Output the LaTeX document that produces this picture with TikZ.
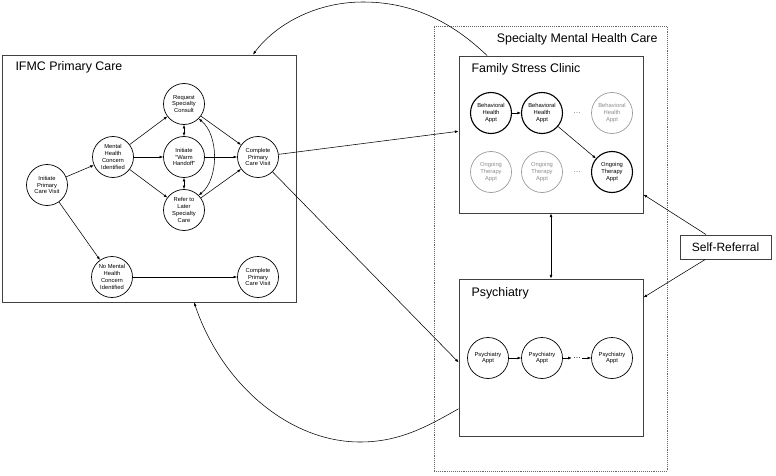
\documentclass[tikz,border=0pt]{standalone}
\usepackage{fontspec}
\setmainfont{Liberation Sans}
\usetikzlibrary{arrows.meta}

\begin{document}
\begin{tikzpicture}[x=1pt,y=-1pt,
    every node/.style={font=\fontsize{5.8}{6.8}\selectfont},
    visit/.style={draw, circle, line width=0.7pt, minimum size=41pt, inner sep=0pt, align=center},
    faded/.style={visit, draw=black!40, text=black!45},
    apptbold/.style={visit, line width=1.1pt},
    panel/.style={draw=black!75, line width=0.9pt, inner sep=0pt},
    title/.style={font=\fontsize{12.4}{14}\selectfont},
    flow/.style={-{Latex[length=3.6pt,width=2.8pt]}, line width=0.55pt},
    both/.style={{Latex[length=3.6pt,width=2.8pt]}-{Latex[length=3.6pt,width=2.8pt]}, line width=0.55pt}]
  \useasboundingbox (0,0) rectangle (776,476);

  %boxes
  \node[panel, minimum width=294pt, minimum height=247pt] (ifmc) at (149,178.5) {};
  \node[panel, draw=black!60, densely dotted, line width=0.6pt, minimum width=233pt, minimum height=445pt] (smhc) at (550.5,248.5) {};
  \node[panel, minimum width=184pt, minimum height=157pt] (fsc) at (551,134.5) {};
  \node[panel, minimum width=184pt, minimum height=157pt] (psy) at (551,357.5) {};
  \node[panel, minimum width=91pt, minimum height=24pt, font=\fontsize{12}{14}\selectfont] (self) at (725.5,247) {Self-Referral};

  \node[title, anchor=base west] (ifmclabel) at (12,71) {IFMC Primary Care};
  \node[title, anchor=base east] (smhclabel) at (661,43) {Specialty Mental Health Care};
  \node[title, anchor=base west] (fsclabel) at (468,73) {Family Stress Clinic};
  \node[title, anchor=base west] (psylabel) at (468,296) {Psychiatry};

  %primary care
  \node[visit] (ipv) at (47,185) {Initiate\\Primary\\Care Visit};
  \node[visit] (mhc) at (113,157) {Mental\\Health\\Concern\\Identified};
  \node[visit] (rsc) at (184,104) {Request\\Specialty\\Consult};
  \node[visit] (wh) at (184,157) {Initiate\\“Warm\\Handoff”};
  \node[visit] (rls) at (184,210) {Refer to\\Later\\Specialty\\Care};
  \node[visit] (cpv) at (258,157) {Complete\\Primary\\Care Visit};
  \node[visit] (nomhc) at (112,277) {No Mental\\Health\\Concern\\Identified};
  \node[visit] (cpvb) at (258,277) {Complete\\Primary\\Care Visit};

  %family stress clinic
  \node[apptbold] (bh1) at (491,113) {Behavioral\\Health\\Appt};
  \node[apptbold] (bh2) at (542,113) {Behavioral\\Health\\Appt};
  \node[text=black!55, font=\fontsize{8}{8}\selectfont] (bhdots) at (577,113) {\dots};
  \node[faded] (bh3) at (612,113) {Behavioral\\Health\\Appt};
  \node[faded] (ot1) at (491,172) {Ongoing\\Therapy\\Appt};
  \node[faded] (ot2) at (542,172) {Ongoing\\Therapy\\Appt};
  \node[text=black!55, font=\fontsize{8}{8}\selectfont] (otdots) at (577,172) {\dots};
  \node[apptbold] (ot3) at (612,172) {Ongoing\\Therapy\\Appt};

  %psychiatry
  \node[visit] (p1) at (488,358) {Psychiatry\\Appt};
  \node[visit] (p2) at (542,358) {Psychiatry\\Appt};
  \node[inner sep=1pt, font=\fontsize{8}{8}\selectfont] (pdots) at (577,358) {\dots};
  \node[visit] (p3) at (612,358) {Psychiatry\\Appt};

  \draw[flow] (ipv) -- (mhc);
  \draw[flow] (ipv) -- (nomhc);
  \draw[flow] (mhc) -- (rsc);
  \draw[flow] (mhc) -- (wh);
  \draw[flow] (mhc) -- (rls);
  \draw[both] (rsc) -- (wh);
  \draw[both] (wh) -- (rls);
  \draw[both] (rsc.-45) .. controls (219,135) and (219,179) .. (rls.45);
  \draw[flow] (rsc) -- (cpv);
  \draw[flow] (wh) -- (cpv);
  \draw[flow] (rls) -- (cpv);
  \draw[flow] (nomhc) -- (cpvb);

  \draw[flow] (bh1) -- (bh2);
  \draw[flow] (bh2) -- (ot3);
  \draw[flow] (p1) -- (p2);
  \draw[flow] (p2) -- (pdots);
  \draw[flow] (pdots) -- (p3);

  \draw[flow] (cpv) -- (fsc.178);
  \draw[flow] (cpv) -- (psy.183);
  \draw[both] (fsc) -- (psy);
  \draw[flow] (self) -- (fsc.-33);
  \draw[flow] (self) -- (psy.33);
  \draw[flow] (fsc.129) .. controls (450,20) and (410,2) .. (363,2)
    .. controls (315,2) and (275,25) .. (ifmc.50);
  \draw[flow] (psy.209) .. controls (425,428) and (398,442) .. (360,442)
    .. controls (290,442) and (222,385) .. (ifmc.290);
\end{tikzpicture}
\end{document}
